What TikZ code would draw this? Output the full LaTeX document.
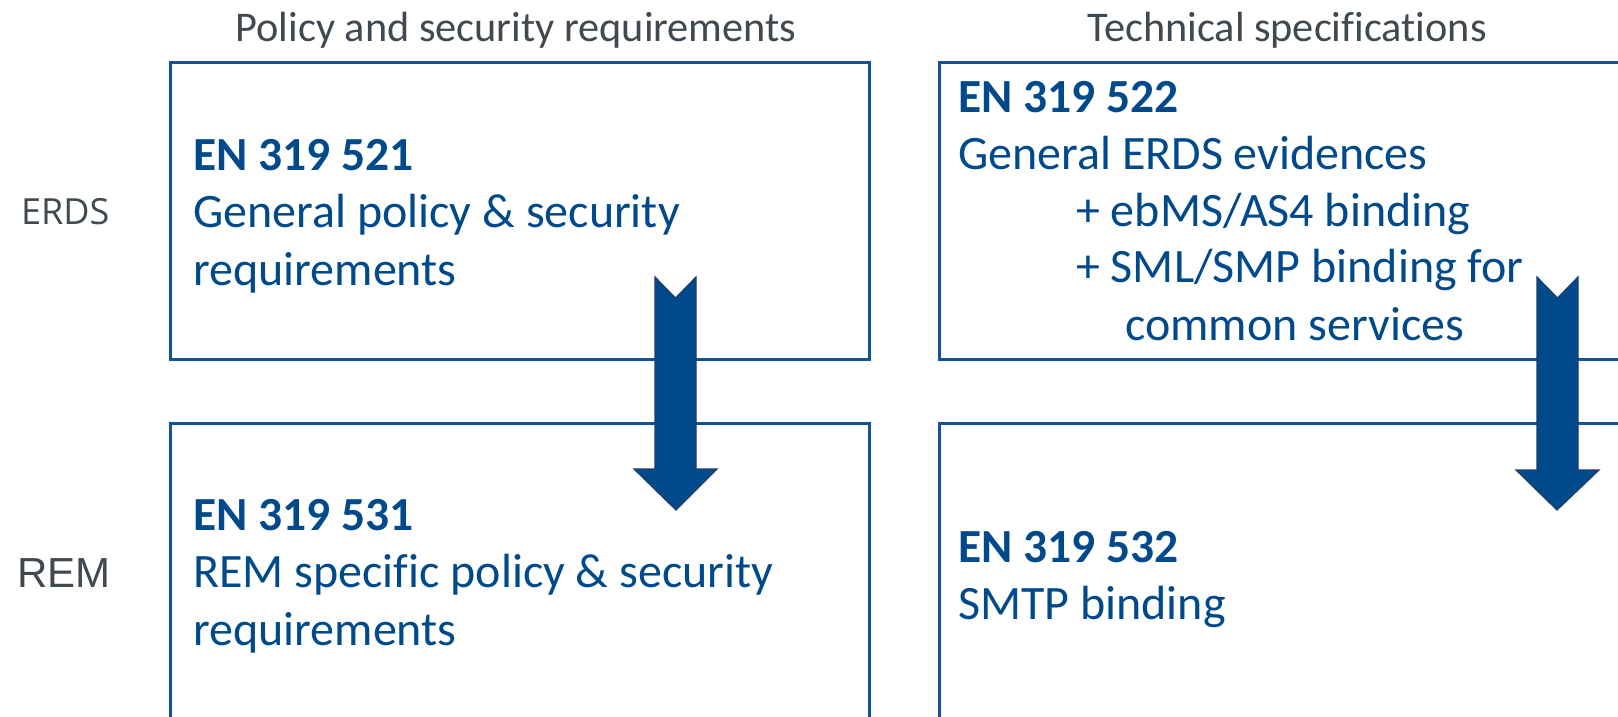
\documentclass[tikz,border=0pt]{standalone}
\usepackage{fontspec}
\setmainfont{Carlito}[Ligatures=NoCommon]
\newfontfamily\erdsfont{Open Sans}
\newfontfamily\remfont{Liberation Sans}
\definecolor{etsiblue}{RGB}{0,74,140}
\definecolor{boxblue}{RGB}{18,82,152}
\definecolor{arrowedge}{RGB}{30,60,105}
\definecolor{headgray}{RGB}{64,72,80}
\tikzset{
  stdbox/.style={draw=boxblue, line width=3pt},
  title/.style={anchor=base west, inner sep=0pt, text=etsiblue, font=\fontsize{47.5}{57}\selectfont\bfseries},
  body/.style={anchor=base west, inner sep=0pt, text=etsiblue, font=\fontsize{48}{57}\selectfont},
  header/.style={anchor=base, inner sep=0pt, text=headgray, font=\fontsize{42.3}{50}\selectfont},
  blockarrow/.style={fill=etsiblue, draw=arrowedge, line width=1.2pt, line join=miter}
}
\begin{document}
\begin{tikzpicture}[x=1pt,y=-1pt]
\useasboundingbox (0,0) rectangle (1618,716);
\clip (0,0) rectangle (1618,716);
\fill[white] (0,0) rectangle (1618,716);
% headers
\node[header] (h1) at (516,41) {Policy and security requirements};
\node[header] (h2) at (1287,41) {Technical specifications};
% row labels
\node[anchor=base west, inner sep=0pt, text=headgray, font=\erdsfont\fontsize{36}{44}\selectfont] (erds) at (21,224) {ERDS};
\node[anchor=base west, inner sep=0pt, text=headgray, font=\remfont\fontsize{42}{50}\selectfont] (rem) at (17,587) {REM};
% boxes
\draw[stdbox] (170,62) rectangle (869,359);
\draw[stdbox] (170,423) rectangle (869,740);
\draw[stdbox] (939,62) rectangle (1660,359);
\draw[stdbox] (939,423) rectangle (1660,740);
% upper-left text
\node[title] (t521) at (193,170) {EN 319 521};
\node[body] (b521a) at (193,227) {General policy \& security};
\node[body] (b521b) at (193,285) {requirements};
% upper-right text
\node[title] (t522) at (958,112) {EN 319 522};
\node[body] (b522a) at (958,169) {General ERDS evidences};
\node[body] (b522b) at (1076,226) {+ ebMS/AS4 binding};
\node[body] (b522c) at (1076,282) {+ SML/SMP binding for};
\node[body] (b522d) at (1125,340) {common services};
% lower-left text
\node[title] (t531) at (193,530) {EN 319 531};
\node[body] (b531a) at (193,587) {REM specific policy \& security};
\node[body] (b531b) at (193,645) {requirements};
% lower-right text
\node[title] (t532) at (958,562) {EN 319 532};
\node[body] (b532a) at (958,619) {SMTP binding};
% block arrows
\draw[blockarrow] (655,277) -- (675.5,298) -- (696,277) -- (696,469) -- (717,469)
  -- (676,510) -- (634,469) -- (655,469) -- cycle;
\draw[blockarrow] (1537,277) -- (1557.5,298) -- (1578,277) -- (1578,470) -- (1599,470)
  -- (1557,510) -- (1516,470) -- (1537,470) -- cycle;
\end{tikzpicture}
\end{document}
